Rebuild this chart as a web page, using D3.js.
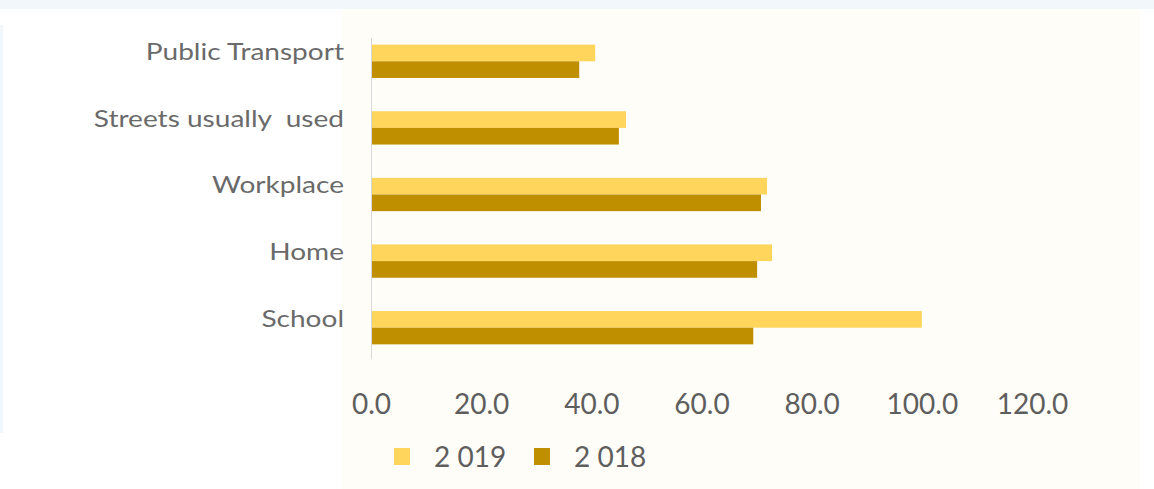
<!DOCTYPE html>
<html>
<head>
<meta charset="utf-8">
<script src="https://cdn.jsdelivr.net/npm/d3@7"></script>
<style>
  html, body { margin: 0; padding: 0; background: #ffffff; }
  svg { display: block; }
  text { font-family: Lato, "Open Sans", sans-serif; }
</style>
</head>
<body>
<svg id="chart" width="1154" height="489"></svg>
<script>
// Locations where incidents were reported, by year
const categories = ["Public Transport", "Streets usually  used", "Workplace", "Home", "School"];
const seriesNames = ["2 019", "2 018"];
const values2019 = [40.7, 46.3, 71.9, 72.8, 100.0];
const values2018 = [37.8, 45.0, 70.8, 70.1, 69.4];
const xTicks = [0, 20, 40, 60, 80, 100, 120];

const colors = { "2 019": "#FFD55C", "2 018": "#BF8F00" };
const seriesValues = { "2 019": values2019, "2 018": values2018 };

const rows = categories.map((c, i) => ({
  category: c,
  bars: seriesNames.map(s => ({ series: s, value: seriesValues[s][i] }))
}));

const svg = d3.select("#chart");
const W = 1154, H = 489;

// page backdrop: faint blue strip along the top and left, cream plot panel
svg.append("rect").attr("x", 0).attr("y", 0).attr("width", W).attr("height", H).attr("fill", "#ffffff");
svg.append("rect").attr("x", 0).attr("y", 0).attr("width", W).attr("height", 9).attr("fill", "#F2F7FC");
svg.append("rect").attr("x", 0).attr("y", 25).attr("width", 3).attr("height", 408).attr("fill", "#F2F7FC");
svg.append("rect").attr("x", 342).attr("y", 9).attr("width", 798).attr("height", H - 9).attr("fill", "#FFFDF7");

// scales
const x = d3.scaleLinear().domain([0, 120]).range([371, 1032]);
const y0 = d3.scaleBand().domain(categories).range([28, 361]).paddingInner(0.5).paddingOuter(0.25);
const y1 = d3.scaleBand().domain(seriesNames).range([0, y0.bandwidth()]);

// category axis line
svg.append("line")
  .attr("x1", x(0) + 0.5).attr("x2", x(0) + 0.5)
  .attr("y1", y0.range()[0] + 10).attr("y2", y0.range()[1] - 2)
  .attr("stroke", "#D9D9D9").attr("stroke-width", 1);

// bars
const groups = svg.append("g").selectAll("g")
  .data(rows).join("g")
  .attr("transform", d => `translate(0,${y0(d.category)})`);

groups.selectAll("rect")
  .data(d => d.bars).join("rect")
  .attr("x", x(0) + 1)
  .attr("y", d => y1(d.series))
  .attr("width", d => x(d.value) - x(0) - 1)
  .attr("height", y1.bandwidth())
  .attr("fill", d => colors[d.series]);

// category labels (right-aligned, drawn wide)
const labels = svg.append("g").selectAll("g")
  .data(categories).join("g")
  .attr("transform", c => `translate(${x(0) - 27},${y0(c) + y0.bandwidth() / 2 - 10})`);
labels.append("text")
  .attr("text-anchor", "end")
  .attr("dominant-baseline", "central")
  .attr("transform", "scale(1.22,1)")
  .style("white-space", "pre")
  .attr("font-size", 23)
  .attr("fill", "#6A6A6A")
  .text(c => c);

// value axis
const xAxis = d3.axisBottom(x)
  .tickValues(xTicks)
  .tickFormat(d3.format(".1f"))
  .tickSize(0)
  .tickPadding(0);
const gx = svg.append("g").attr("transform", "translate(0,403)").call(xAxis);
gx.select(".domain").remove();
gx.selectAll("text")
  .attr("dy", null)
  .attr("dominant-baseline", "central")
  .attr("font-family", "Lato, 'Open Sans', sans-serif")
  .attr("font-size", 28)
  .attr("fill", "#5E5E5E");

// legend
const legend = svg.append("g").attr("transform", "translate(394,456)");
const item = legend.selectAll("g")
  .data(seriesNames).join("g")
  .attr("transform", (d, i) => `translate(${i * 140},0)`);
item.append("rect")
  .attr("x", 0).attr("y", -8)
  .attr("width", 16).attr("height", 17)
  .attr("fill", d => colors[d]);
item.append("text")
  .attr("x", 40)
  .attr("dominant-baseline", "central")
  .style("white-space", "pre")
  .attr("font-size", 28)
  .attr("fill", "#5E5E5E")
  .text(d => d);
</script>
</body>
</html>
